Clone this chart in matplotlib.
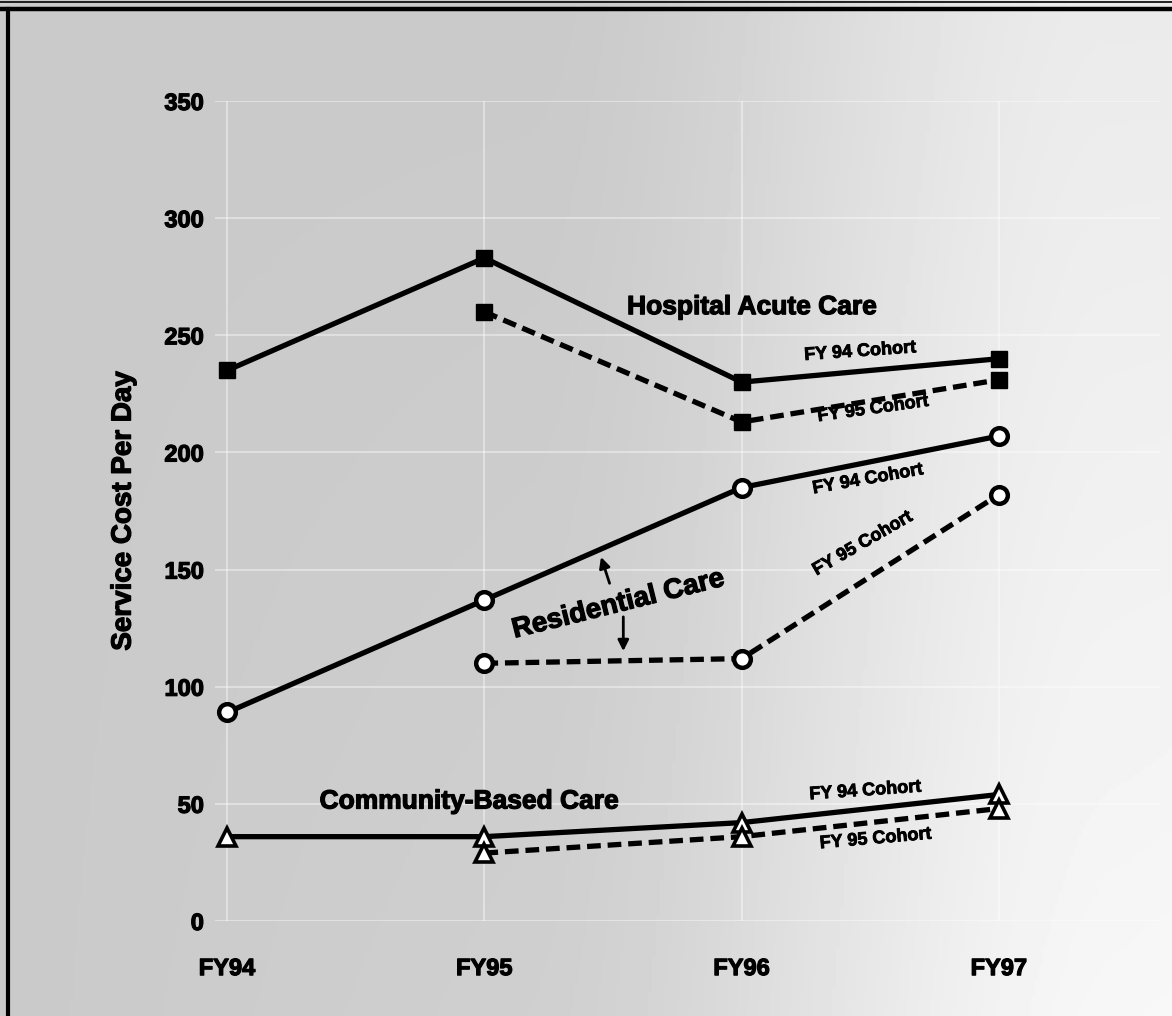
import numpy as np
import matplotlib
matplotlib.use("Agg")
import matplotlib.pyplot as plt
import matplotlib.patheffects as pe
from matplotlib.lines import Line2D

plt.rcParams['font.family'] = ['Liberation Sans', 'DejaVu Sans']

# Fiscal years on the x axis
years = ["FY94", "FY95", "FY96", "FY97"]
yticks = [0, 50, 100, 150, 200, 250, 300, 350]

# Service cost per day, by care type and cohort
hospital_fy94 = [235, 283, 230, 240]
hospital_fy95 = [260, 213, 231]
residential_fy94 = [89, 137, 185, 207]
residential_fy95 = [110, 112, 182]
community_fy94 = [36, 36, 42, 54]
community_fy95 = [29, 36, 48]

W, H = 1172, 1016
fig = plt.figure(figsize=(W / 100, H / 100), dpi=100)

# heavier print look for all lettering
heavy = [pe.withStroke(linewidth=0.9, foreground="black")]

# soft gray paper background, lighter toward the right
bg = fig.add_axes([0, 0, 1, 1], zorder=-10)
gx, gy = np.meshgrid(np.linspace(0, 1, 300), np.linspace(0, 1, 260))
t = np.clip((gx - 0.45) / 0.5, 0, 1)
t = t * t * (3 - 2 * t)
shade = 0.79 + 0.13 * t + 0.05 * gy * gx
bg.imshow(shade, cmap="gray", vmin=0, vmax=1, aspect="auto", extent=[0, 1, 0, 1])
bg.set_axis_off()

# frame lines along the top and left
fig.add_artist(Line2D([0, 1], [1 - 8.5 / H] * 2, color="black", lw=3.2, transform=fig.transFigure))
fig.add_artist(Line2D([0, 1], [1 - 1.5 / H] * 2, color="black", lw=1.2, transform=fig.transFigure))
fig.add_artist(Line2D([7.5 / W] * 2, [0, 1 - 8.5 / H], color="black", lw=3.0, transform=fig.transFigure))

ax = fig.add_axes([215 / W, (H - 921) / H, (1160 - 215) / W, (921 - 101) / H])
ax.set_facecolor("none")
ax.set_xlim(-0.047, 3.626)
ax.set_ylim(0, 350)
for s in ax.spines.values():
    s.set_visible(False)

ax.set_yticks(yticks)
ax.set_yticklabels([str(v) for v in yticks], fontsize=17, fontweight="bold")
ax.set_xticks(range(len(years)))
ax.set_xticklabels(years, fontsize=17, fontweight="bold")
ax.tick_params(length=0)
ax.tick_params(axis="y", pad=8)
ax.tick_params(axis="x", pad=26)
ax.grid(True, color="white", lw=1.5, alpha=0.4)
ax.set_axisbelow(True)
for lbl in ax.get_xticklabels() + ax.get_yticklabels():
    lbl.set_path_effects(heavy)

ylab = ax.set_ylabel("Service Cost Per Day", fontsize=20, fontweight="bold", labelpad=20)
ylab.set_path_effects(heavy)

solid = dict(color="black", lw=3.8, solid_capstyle="butt", clip_on=False, zorder=3)
dashed = dict(color="black", lw=3.8, linestyle=(0, (2.6, 1.3)), dash_capstyle="butt",
              clip_on=False, zorder=3)

x4 = np.arange(4)
x3 = np.arange(1, 4)

# Hospital acute care
ax.plot(x4, hospital_fy94, marker="s", ms=11, mfc="black", mec="black", **solid)
ax.plot(x3, hospital_fy95, marker="s", ms=11, mfc="black", mec="black", **dashed)

# Residential care
ax.plot(x4, residential_fy94, marker="o", ms=12, mfc="white", mec="black", mew=3.2, **solid)
ax.plot(x3, residential_fy95, marker="o", ms=12, mfc="white", mec="black", mew=3.2, **dashed)

# Community-based care
ax.plot(x4, community_fy94, marker="^", ms=13, mfc="white", mec="black", mew=2.6, **solid)
ax.plot(x3, community_fy95, marker="^", ms=13, mfc="white", mec="black", mew=2.6, **dashed)

# Category labels
label_font = dict(fontweight="bold", ha="center", va="center", path_effects=heavy)
ax.text(2.04, 262, "Hospital Acute Care", fontsize=19, **label_font)
ax.text(1.52, 135, "Residential Care", fontsize=20, rotation=14, **label_font)
ax.text(0.94, 51, "Community-Based Care", fontsize=19, **label_font)

ax.annotate("", xy=(1.45, 156.5), xytext=(1.49, 143),
            arrowprops=dict(arrowstyle="-|>", color="black", lw=2.0, mutation_scale=16))
ax.annotate("", xy=(1.54, 114), xytext=(1.54, 131),
            arrowprops=dict(arrowstyle="-|>", color="black", lw=2.0, mutation_scale=16))

# Cohort labels along the FY96-FY97 segments
cohort_font = dict(fontsize=13, fontweight="bold", ha="center", va="center",
                   family=["Liberation Sans Narrow", "Liberation Sans"],
                   path_effects=[pe.withStroke(linewidth=0.6, foreground="black")])
ax.text(2.46, 243, "FY 94 Cohort", rotation=4, **cohort_font)
ax.text(2.51, 218.5, "FY 95 Cohort", rotation=8, **cohort_font)
ax.text(2.49, 188.5, "FY 94 Cohort", rotation=10, **cohort_font)
ax.text(2.47, 161, "FY 95 Cohort", rotation=30, **cohort_font)
ax.text(2.48, 55.5, "FY 94 Cohort", rotation=4, **cohort_font)
ax.text(2.52, 35, "FY 95 Cohort", rotation=5, **cohort_font)

fig.savefig("out.png", dpi=100)
